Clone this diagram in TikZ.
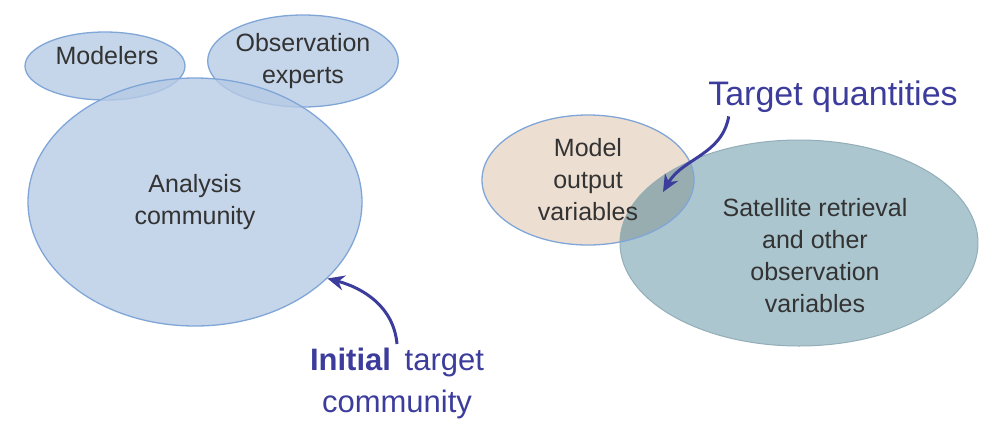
\documentclass[tikz,border=0pt]{standalone}
\usepackage{fontspec}
\setmainfont{Liberation Sans}
\usetikzlibrary{shapes.geometric, arrows.meta, calc}

\definecolor{groupblue}{HTML}{B6CAE5}
\definecolor{groupedge}{HTML}{80A6D8}
\definecolor{modelfill}{HTML}{EDDED2}
\definecolor{satfill}{HTML}{ACC6CF}
\definecolor{satedge}{HTML}{93AEB8}
\definecolor{bothfill}{HTML}{97ADB0}
\definecolor{callout}{HTML}{3C3C9C}

\begin{document}
\begin{tikzpicture}[
    x=1pt, y=-1pt,
    every node/.style={font=\fontsize{25}{32}\selectfont, align=center, text=black!80},
    blob/.style={ellipse, draw=groupedge, line width=1.3pt, fill=groupblue, fill opacity=0.8, text opacity=1, inner sep=0pt},
    callouttext/.style={text=callout},
    pointer/.style={-{Stealth[length=17pt, width=15pt]}, draw=callout, line width=3pt},
  ]
  \useasboundingbox (0,0) rectangle (989,424);

  % Left: who uses it
  \node[blob, minimum width=160pt, minimum height=68pt] (mod) at (105,66) {};
  \node[blob, minimum width=174pt, minimum height=92pt] (obs) at (303,61) {Observation\\experts};
  \node[blob, minimum width=334pt, minimum height=248pt] (ana) at (195,202) {Analysis\\community};
  \node (modlabel) at (107,56) {Modelers};

  % Right: what is compared
  \fill[modelfill] (588,180) ellipse [x radius=106, y radius=65];
  \node[ellipse, draw=satedge, line width=1pt, fill=satfill, minimum width=358pt, minimum height=206pt] (sat) at (799,243) {};
  \begin{scope}
    \clip (588,180) ellipse [x radius=106, y radius=65];
    \fill[bothfill] (799,243) ellipse [x radius=179, y radius=103];
  \end{scope}
  \node[ellipse, draw=groupedge, line width=1.3pt, inner sep=0pt, minimum width=212pt, minimum height=130pt] (model) at (588,180) {Model\\output\\variables};
  \node (satlabel) at (815,256) {Satellite retrieval\\and other\\observation\\variables};
  \coordinate (shared) at (663,192);

  % Callouts
  \node[callouttext, font=\fontsize{34}{40}\selectfont] (tq) at (833,97) {Target quantities};
  \node[callouttext, font=\fontsize{31}{42}\selectfont] (init) at (397,383) {\textbf{Initial}\, target\\community};

  \draw[pointer] ([xshift=24pt]tq.south west) to[out=-100, in=60] (shared);
  \draw[pointer] (init.north) to[out=95, in=-15] (ana.-30);
\end{tikzpicture}
\end{document}
